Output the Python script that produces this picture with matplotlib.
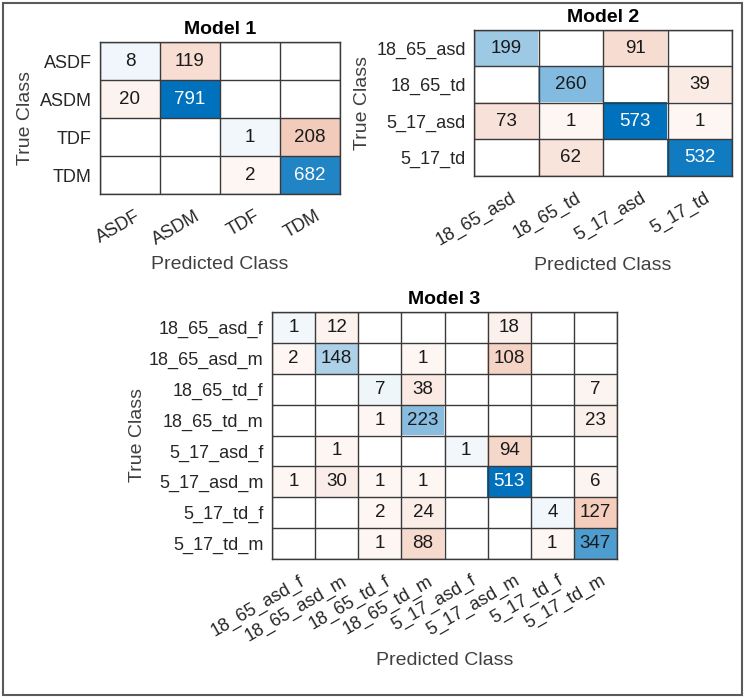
import numpy as np
import matplotlib
matplotlib.use("Agg")
import matplotlib.pyplot as plt
from matplotlib.colors import LinearSegmentedColormap, Normalize
from matplotlib.patches import Rectangle
import matplotlib.transforms as mtransforms

plt.rcParams['font.family'] = ['Liberation Sans', 'DejaVu Sans']

# --- data ---
m1_labels = ['ASDF', 'ASDM', 'TDF', 'TDM']
m1_counts = [[8, 119, 0, 0],
             [20, 791, 0, 0],
             [0, 0, 1, 208],
             [0, 0, 2, 682]]

m2_labels = ['18_65_asd', '18_65_td', '5_17_asd', '5_17_td']
m2_counts = [[199, 0, 91, 0],
             [0, 260, 0, 39],
             [73, 1, 573, 1],
             [0, 62, 0, 532]]

m3_labels = ['18_65_asd_f', '18_65_asd_m', '18_65_td_f', '18_65_td_m',
             '5_17_asd_f', '5_17_asd_m', '5_17_td_f', '5_17_td_m']
m3_counts = [[1, 12, 0, 0, 0, 18, 0, 0],
             [2, 148, 0, 1, 0, 108, 0, 0],
             [0, 0, 7, 38, 0, 0, 0, 7],
             [0, 0, 1, 223, 0, 0, 0, 23],
             [0, 1, 0, 0, 1, 94, 0, 0],
             [1, 30, 1, 1, 0, 513, 0, 6],
             [0, 0, 2, 24, 0, 0, 4, 127],
             [0, 0, 1, 88, 0, 0, 1, 347]]

blue = (0 / 255, 114 / 255, 189 / 255)
red = (217 / 255, 83 / 255, 25 / 255)
cm_diag = LinearSegmentedColormap.from_list('diag', ['white', blue])
cm_off = LinearSegmentedColormap.from_list('off', ['white', red])
cm_diag.set_bad((1, 1, 1, 0))
cm_off.set_bad((1, 1, 1, 0))

W, H = 751, 698
fig = plt.figure(figsize=(W / 100, H / 100), dpi=100)
fig.patch.set_facecolor('white')


def px_box(x0, y0, x1, y1):
    return [x0 / W, 1 - y1 / H, (x1 - x0) / W, (y1 - y0) / H]


def conf_chart(rect, labels, counts, title, ylab_x, xlab_y):
    ax = fig.add_axes(rect)
    data = np.array(counts, dtype=float)
    n = len(labels)
    vmax = data.max()
    # cells fade from a light tint (non-zero) up to the full colour at the max
    norm = Normalize(vmin=-vmax * 0.05 / 0.95, vmax=vmax)
    eye = np.eye(n, dtype=bool)
    diag = np.where(eye & (data > 0), data, np.nan)
    off = np.where(~eye & (data > 0), data, np.nan)
    ax.imshow(np.ma.masked_invalid(diag), cmap=cm_diag, norm=norm, aspect='auto',
              interpolation='nearest')
    ax.imshow(np.ma.masked_invalid(off), cmap=cm_off, norm=norm, aspect='auto',
              interpolation='nearest')
    for i in range(n):
        for j in range(n):
            v = counts[i][j]
            if v > 0:
                c = 'white' if v / vmax > 0.8 else '#1a1a1a'
                ax.text(j, i, str(v), ha='center', va='center', fontsize=13.5, color=c)
    ax.set_xlim(-0.5, n - 0.5)
    ax.set_ylim(n - 0.5, -0.5)
    ax.set_xticks(range(n))
    ax.set_yticks(range(n))
    ax.set_xticklabels(labels, rotation=30, ha='right', va='center',
                       rotation_mode='anchor', fontsize=13, color='#262626')
    ax.set_yticklabels(labels, fontsize=13, color='#262626')
    ax.set_xticks(np.arange(-0.5, n, 1), minor=True)
    ax.set_yticks(np.arange(-0.5, n, 1), minor=True)
    ax.grid(which='minor', color='#3a3a3a', linewidth=1)
    ax.tick_params(which='both', length=0)
    ax.tick_params(axis='x', pad=15)
    ax.tick_params(axis='y', pad=6)
    for s in ax.spines.values():
        s.set_color('#3a3a3a')
        s.set_linewidth(1)
    offset = mtransforms.ScaledTranslation(0.09, 0, fig.dpi_scale_trans)
    for lab in ax.get_xticklabels():
        lab.set_transform(lab.get_transform() + offset)
    ax.set_title(title, fontsize=14, fontweight='bold', pad=6)
    ax.set_ylabel('True Class', fontsize=14, color='#404040')
    ax.set_xlabel('Predicted Class', fontsize=14, color='#404040')
    ax.yaxis.set_label_coords(ylab_x, 0.5)
    ax.xaxis.set_label_coords(0.5, xlab_y)
    ax.yaxis.label.set_va('center')
    ax.xaxis.label.set_va('center')
    return ax


conf_chart(px_box(100, 42, 340, 194), m1_labels, m1_counts, 'Model 1', -0.31, -0.467)
conf_chart(px_box(474, 30, 732, 176), m2_labels, m2_counts, 'Model 2', -0.434, -0.616)
conf_chart(px_box(272, 312, 617, 559), m3_labels, m3_counts, 'Model 3', -0.391, -0.409)

fig.patches.append(Rectangle((3 / W, 3 / H), (742 - 3) / W, (695 - 3) / H,
                             transform=fig.transFigure, fill=False,
                             edgecolor='#5a5a5a', linewidth=1.5))

fig.savefig('out.png', dpi=100)
